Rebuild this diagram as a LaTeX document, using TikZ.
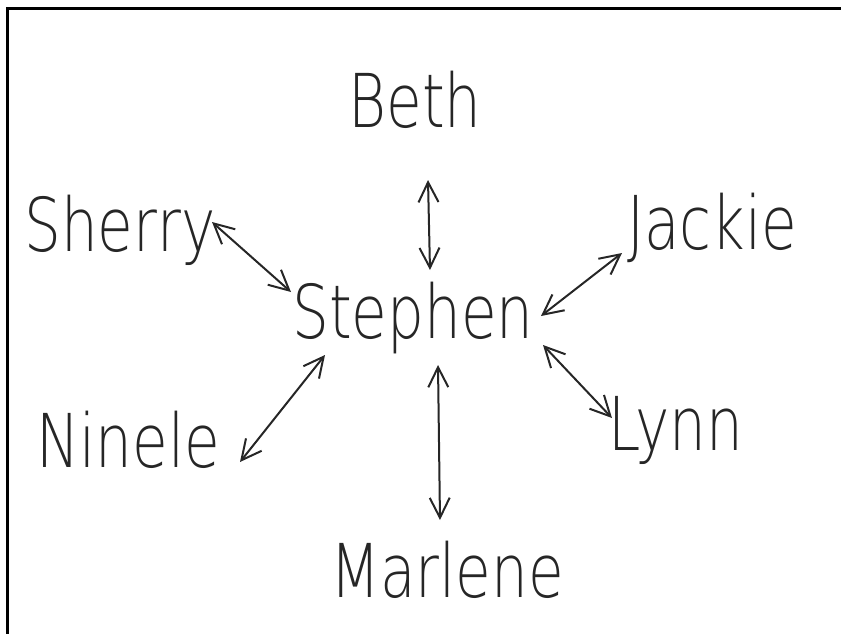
\documentclass[tikz,border=0pt]{standalone}
\usepackage{fontspec}
\setmainfont{DejaVu Sans}[UprightFont=* ExtraLight]
\usetikzlibrary{arrows.meta}
\newcommand{\tallname}[1]{\scalebox{1}[1.28]{#1}}
\begin{document}
\begin{tikzpicture}[x=1pt,y=-1pt,
  person/.style={inner sep=0pt,font=\fontsize{58}{58}\selectfont,text=black!85},
  dbl/.style={{Straight Barb[length=20pt,width=20pt]}-{Straight Barb[length=20pt,width=20pt]},line width=2pt,black!85},
  frameline/.style={line width=3pt,black}]
\useasboundingbox (0,0) rectangle (841,634);
\coordinate (ftl) at (7,9);
\coordinate (ftr) at (841,9);
\coordinate (fbl) at (7,634);
\draw[frameline] (ftr) -- (ftl) -- (fbl);

\node[person] (beth)    at (415,100) {\tallname{Beth}};
\node[person] (sherry)  at (120,230) {\tallname{Sherry}};
\node[person] (jackie)  at (712,228) {\tallname{Jackie}};
\node[person] (stephen) at (413,318) {\tallname{Stephen}};
\node[person] (ninele)  at (128,440) {\tallname{Ninele}};
\node[person] (lynn)    at (676,430) {\tallname{Lynn}};
\node[person] (marlene) at (447,570) {\tallname{Marlene}};

\draw[dbl] ([shift={(13,80)}]beth.center) -- ([shift={(17,-48)}]stephen.center);
\draw[dbl] ([shift={(92,-8)}]sherry.center) -- ([shift={(-122,-26)}]stephen.center);
\draw[dbl] ([shift={(-90,25)}]jackie.center) -- ([shift={(128,-2)}]stephen.center);
\draw[dbl] ([shift={(112,22)}]ninele.center) -- ([shift={(-88,37)}]stephen.center);
\draw[dbl] ([shift={(130,27)}]stephen.center) -- ([shift={(-64,-12)}]lynn.center);
\draw[dbl] ([shift={(25,47)}]stephen.center) -- ([shift={(-7,-50)}]marlene.center);
\end{tikzpicture}
\end{document}
